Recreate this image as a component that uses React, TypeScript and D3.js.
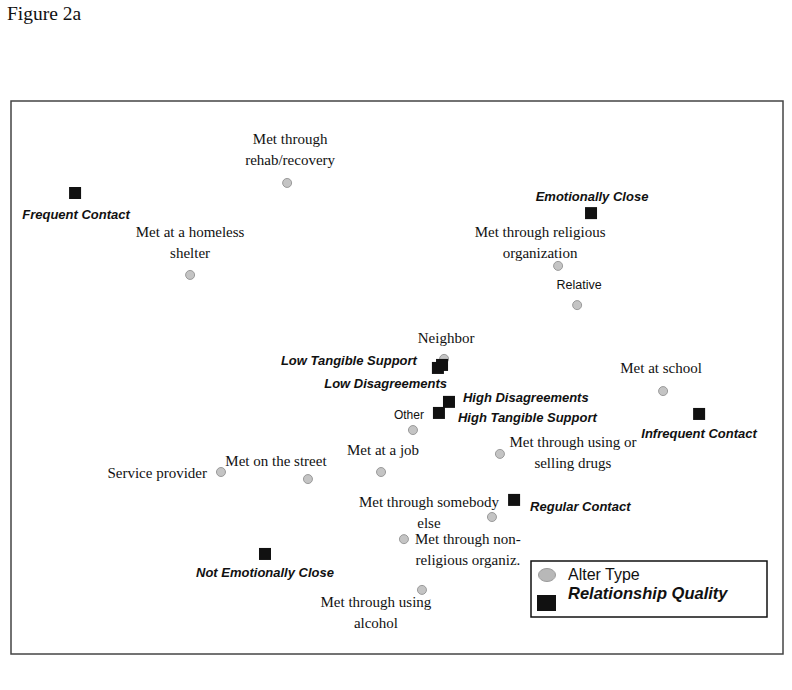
import React from "react";
import * as d3 from "d3";

const ALTER_NAMES = [
  "Met through\nrehab/recovery",
  "Met at a homeless\nshelter",
  "Met through religious\norganization",
  "Relative",
  "Neighbor",
  "Other",
  "Met at school",
  "Met through using or\nselling drugs",
  "Met at a job",
  "Met on the street",
  "Service provider",
  "Met through somebody\nelse",
  "Met through non-\nreligious organiz.",
  "Met through using\nalcohol",
];
const ALTER_DIM1 = [-0.427, -0.804, 0.626, 0.7, 0.183, 0.062, 1.034, 0.4, -0.062, -0.346, -0.684, 0.369, 0.027, 0.097];
const ALTER_DIM2 = [0.774, 0.408, 0.444, 0.288, 0.074, -0.209, -0.054, -0.304, -0.376, -0.404, -0.376, -0.555, -0.643, -0.845];

const QUALITY_NAMES = [
  "Frequent Contact",
  "Emotionally Close",
  "Low Tangible Support",
  "Low Disagreements",
  "High Disagreements",
  "High Tangible Support",
  "Infrequent Contact",
  "Regular Contact",
  "Not Emotionally Close",
];
const QUALITY_DIM1 = [-1.251, 0.754, 0.159, 0.175, 0.202, 0.163, 1.174, 0.455, -0.513];
const QUALITY_DIM2 = [0.734, 0.654, 0.038, 0.05, -0.097, -0.141, -0.145, -0.487, -0.702];

const LEGEND_LABELS = ["Alter Type", "Relationship Quality"];
const TITLE = "Figure 2a";

// ---- Layout (label placement relative to each marker) ----
type Lay = { dx: number; dy: number; anchor: "start" | "middle" | "end"; sans?: number };
const ALTER_LAYOUT: Lay[] = [
  { dx: 3, dy: -39, anchor: "middle" },
  { dx: 0, dy: -38, anchor: "middle" },
  { dx: -18, dy: -29, anchor: "middle" },
  { dx: 2, dy: -16, anchor: "middle", sans: 12.5 },
  { dx: 2, dy: -16, anchor: "middle" },
  { dx: -4, dy: -11, anchor: "middle", sans: 12 },
  { dx: -2, dy: -18, anchor: "middle" },
  { dx: 73, dy: -7, anchor: "middle" },
  { dx: 2, dy: -17, anchor: "middle" },
  { dx: -32, dy: -13, anchor: "middle" },
  { dx: -14, dy: 6, anchor: "end" },
  { dx: -63, dy: -10, anchor: "middle" },
  { dx: 64, dy: 5, anchor: "middle" },
  { dx: -46, dy: 17, anchor: "middle" },
];
const QUALITY_LAYOUT: Lay[] = [
  { dx: 1, dy: 26, anchor: "middle" },
  { dx: 1, dy: -12, anchor: "middle" },
  { dx: -21, dy: -3, anchor: "end" },
  { dx: 5, dy: 23, anchor: "end" },
  { dx: 14, dy: 0, anchor: "start" },
  { dx: 19, dy: 9, anchor: "start" },
  { dx: 0, dy: 24, anchor: "middle" },
  { dx: 16, dy: 11, anchor: "start" },
  { dx: 0, dy: 23, anchor: "middle" },
];

const W = 792;
const H = 690;
const FRAME = { left: 11, top: 101, right: 783, bottom: 654 };
const SERIF = "'Liberation Serif', 'Times New Roman', serif";
const SANS = "'Liberation Sans', Arial, sans-serif";
const LINE = 21;

export default function App() {
  const x = d3.scaleLinear().domain([-1.5, 1.5]).range([FRAME.left, FRAME.right]);
  const y = d3.scaleLinear().domain([-1.1, 1.1]).range([FRAME.bottom, FRAME.top]);
  const sq = 12;

  return (
    <svg
      width={W}
      height={H}
      style={{ position: "absolute", left: 0, top: 0, background: "#fff" }}
    >
      <rect x={0} y={0} width={W} height={H} fill="#fff" />
      <text x={7} y={20} fontFamily={SERIF} fontSize={19.5} fill="#111">
        {TITLE}
      </text>
      <rect
        x={FRAME.left}
        y={FRAME.top}
        width={FRAME.right - FRAME.left}
        height={FRAME.bottom - FRAME.top}
        fill="none"
        stroke="#444"
        strokeWidth={1.5}
      />

      {/* Alter type points */}
      {ALTER_NAMES.map((name, i) => {
        const px = x(ALTER_DIM1[i]);
        const py = y(ALTER_DIM2[i]);
        const lay = ALTER_LAYOUT[i];
        const lines = name.split("\n");
        return (
          <g key={"a" + i}>
            <circle cx={px} cy={py} r={4.5} fill="#c4c4c4" stroke="#9a9a9a" strokeWidth={1} />
            <text
              x={px + lay.dx}
              y={py + lay.dy}
              textAnchor={lay.anchor}
              fontFamily={lay.sans ? SANS : SERIF}
              fontSize={lay.sans ? lay.sans : 15}
              fill="#111"
            >
              {lines.map((l, j) => (
                <tspan key={j} x={px + lay.dx} dy={j === 0 ? 0 : LINE}>
                  {l}
                </tspan>
              ))}
            </text>
          </g>
        );
      })}

      {/* Relationship quality points */}
      {QUALITY_NAMES.map((name, i) => {
        const px = x(QUALITY_DIM1[i]);
        const py = y(QUALITY_DIM2[i]);
        const lay = QUALITY_LAYOUT[i];
        return (
          <g key={"q" + i}>
            <rect x={px - sq / 2} y={py - sq / 2} width={sq} height={sq} fill="#111" />
            <text
              x={px + lay.dx}
              y={py + lay.dy}
              textAnchor={lay.anchor}
              fontFamily={SANS}
              fontWeight="bold"
              fontStyle="italic"
              fontSize={13}
              fill="#111"
            >
              {name}
            </text>
          </g>
        );
      })}

      {/* Legend */}
      <g>
        <rect x={531} y={561} width={236} height={56} fill="#fff" stroke="#111" strokeWidth={1.5} />
        <ellipse cx={547} cy={575} rx={8.5} ry={6.5} fill="#b8b8b8" stroke="#999" strokeWidth={1} />
        <rect x={537} y={595} width={19} height={16} fill="#111" />
        <text x={568} y={580} fontFamily={SANS} fontSize={16} fill="#111">
          {LEGEND_LABELS[0]}
        </text>
        <text x={568} y={599} fontFamily={SANS} fontSize={16.5} fontWeight="bold" fontStyle="italic" fill="#111">
          {LEGEND_LABELS[1]}
        </text>
      </g>
    </svg>
  );
}
